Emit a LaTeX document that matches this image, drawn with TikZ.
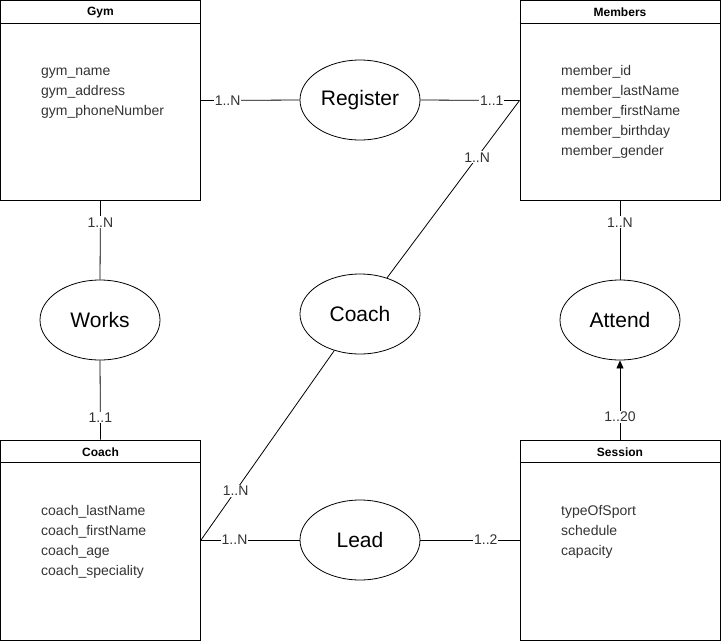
\documentclass[tikz,border=0pt]{standalone}
\usepackage{fontspec}
\setmainfont{Liberation Sans}
\usetikzlibrary{shapes.geometric,arrows.meta}
\definecolor{txt}{HTML}{333333}
\begin{document}
\begin{tikzpicture}[x=1pt,y=-1pt,
  ent/.style={draw,line width=1pt,minimum width=200pt,minimum height=200pt,inner sep=0pt},
  rel/.style={draw,line width=0.8pt,ellipse,minimum width=120pt,minimum height=80pt,inner sep=0pt,font=\fontsize{21}{24}\selectfont},
  ttl/.style={font=\fontsize{12}{14}\selectfont\bfseries},
  attr/.style={anchor=north west,align=left,inner sep=0pt,text=txt,font=\fontsize{14}{20}\selectfont},
  card/.style={fill=white,inner sep=1pt,text=txt,font=\fontsize{14}{16}\selectfont},
  conn/.style={line width=0.8pt}]
\useasboundingbox (0,0) rectangle (721,641);
% entities
\node[ent] (gym) at (100.5,100.5) {};
\node[ent] (mem) at (620,100.5) {};
\node[ent] (coa) at (100.5,540) {};
\node[ent] (ses) at (620,540) {};
\foreach \e/\t in {gym/Gym,mem/Members,coa/Coach,ses/Session}{
  \draw[line width=1pt] ([yshift=-23pt]\e.north west) -- ([yshift=-23pt]\e.north east);
  \node[ttl] (\e-title) at ([yshift=-12.5pt]\e.north) {\t};
}
\node[attr] (gymattr) at (41,61) {\strut gym\_name\\gym\_address\\gym\_phoneNumber};
\node[attr] (memattr) at (561,61) {\strut member\_id\\member\_lastName\\member\_firstName\\member\_birthday\\member\_gender};
\node[attr] (coaattr) at (41,501) {\strut coach\_lastName\\coach\_firstName\\coach\_age\\coach\_speciality};
\node[attr] (sesattr) at (561,501) {\strut typeOfSport\\schedule\\capacity};
% relationships
\node[rel] (reg) at (360,100) {Register};
\node[rel] (wor) at (100,320) {Works};
\node[rel] (coe) at (360,314) {Coach};
\node[rel] (att) at (620,320) {Attend};
\node[rel] (lea) at (360,540) {Lead};
% connectors
\draw[conn] (gym.east) -- (reg.west) node[card,pos=0.27] {1..N};
\draw[conn] (reg.east) -- (mem.west) node[card,pos=0.72] {1..1};
\draw[conn] (mem.west) -- (coe) node[card,pos=0.32] {1..N};
\draw[conn] (coa.east) -- (coe) node[card,pos=0.26] {1..N};
\draw[conn] (gym.south) -- (wor.north) node[card,pos=0.27] {1..N};
\draw[conn] (wor.south) -- (coa.north) node[card,pos=0.72] {1..1};
\draw[conn] (mem.south) -- (att.north) node[card,pos=0.27] {1..N};
\draw[conn,-{Triangle[length=8pt,width=7pt]}] (ses.north) -- (att.south) node[card,pos=0.29] {1..20};
\draw[conn] (coa.east) -- (lea.west) node[card,pos=0.34] {1..N};
\draw[conn] (lea.east) -- (ses.west) node[card,pos=0.66] {1..2};
\end{tikzpicture}
\end{document}
